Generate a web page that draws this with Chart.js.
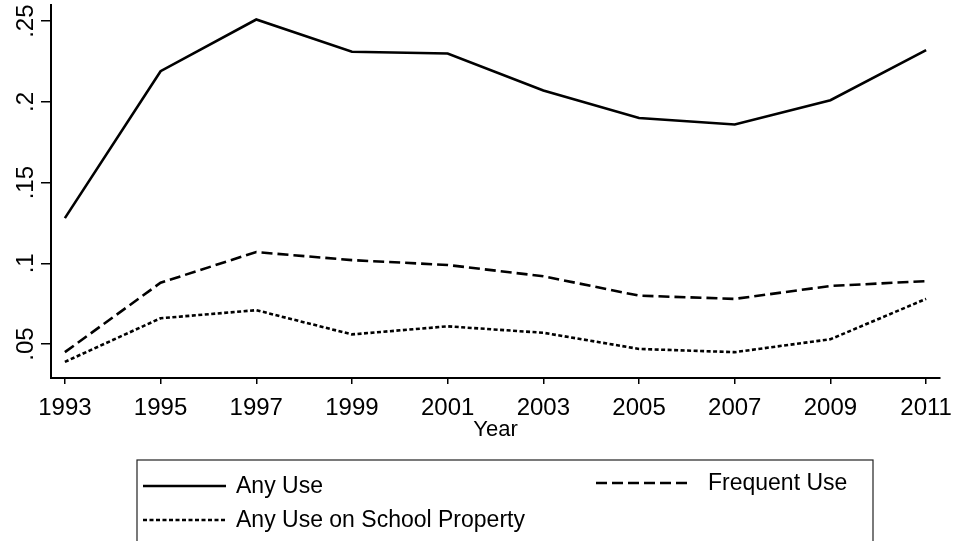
<!DOCTYPE html>
<html>
<head>
<meta charset="utf-8">
<script src="https://cdn.jsdelivr.net/npm/chart.js@4"></script>
<style>
  html, body { margin: 0; padding: 0; background: #fff; }
  #chart { display: block; }
</style>
</head>
<body>
<canvas id="chart" width="953" height="541"></canvas>
<script>
// Data
const years = [1993, 1995, 1997, 1999, 2001, 2003, 2005, 2007, 2009, 2011];
const anyUse = [0.128, 0.219, 0.251, 0.231, 0.230, 0.207, 0.190, 0.186, 0.201, 0.232];
const frequentUse = [0.045, 0.088, 0.107, 0.102, 0.099, 0.092, 0.080, 0.078, 0.086, 0.089];
const schoolUse = [0.039, 0.066, 0.071, 0.056, 0.061, 0.057, 0.047, 0.045, 0.053, 0.078];

const xTicks = [1993, 1995, 1997, 1999, 2001, 2003, 2005, 2007, 2009, 2011];
const yTicks = [0.05, 0.1, 0.15, 0.2, 0.25];
const yTickLabels = ['.05', '.1', '.15', '.2', '.25'];

const FONT = 'Liberation Sans, Arial, sans-serif';

function toPoints(values) {
    return years.map((yr, i) => ({ x: yr, y: values[i] }));
}

// Stata-style boxed legend below the plot
const boxLegend = {
    id: 'boxLegend',
    afterDraw(chart, args, opts) {
        const ctx = chart.ctx;
        const ds = chart.data.datasets;
        ctx.save();
        ctx.strokeStyle = '#222';
        ctx.lineWidth = 1.2;
        ctx.strokeRect(opts.box.left, opts.box.top, opts.box.right - opts.box.left, 200);

        ctx.font = '23px ' + FONT;
        ctx.fillStyle = '#000';
        ctx.textBaseline = 'middle';
        opts.items.forEach((item, i) => {
            const d = ds[i];
            ctx.strokeStyle = '#000';
            ctx.lineWidth = d.borderWidth;
            ctx.setLineDash(d.borderDash || []);
            ctx.beginPath();
            ctx.moveTo(item.x1, item.y);
            ctx.lineTo(item.x2, item.y);
            ctx.stroke();
            ctx.setLineDash([]);
            ctx.fillText(d.label, item.tx, item.y + 1);
        });
        ctx.restore();
    }
};

new Chart(document.getElementById('chart'), {
    type: 'line',
    data: {
        datasets: [
            {
                label: 'Any Use',
                data: toPoints(anyUse),
                borderColor: '#000',
                borderWidth: 2.6,
                pointRadius: 0,
                tension: 0
            },
            {
                label: 'Frequent Use',
                data: toPoints(frequentUse),
                borderColor: '#000',
                borderWidth: 2.6,
                borderDash: [11, 5],
                pointRadius: 0,
                tension: 0
            },
            {
                label: 'Any Use on School Property',
                data: toPoints(schoolUse),
                borderColor: '#000',
                borderWidth: 2.6,
                borderDash: [4, 2.5],
                pointRadius: 0,
                tension: 0
            }
        ]
    },
    options: {
        responsive: false,
        animation: false,
        devicePixelRatio: 1,
        layout: { padding: { top: 5, right: 13, left: 0, bottom: 98 } },
        plugins: {
            legend: { display: false },
            tooltip: { enabled: false },
            boxLegend: {
                box: { left: 137, top: 460, right: 873 },
                items: [
                    { x1: 143, x2: 226, y: 486, tx: 236 },
                    { x1: 596, x2: 690, y: 483, tx: 708 },
                    { x1: 143, x2: 226, y: 520, tx: 236 }
                ]
            }
        },
        scales: {
            x: {
                type: 'linear',
                min: 1992.71,
                max: 2011.29,
                afterBuildTicks: scale => { scale.ticks = xTicks.map(v => ({ value: v })); },
                afterFit: scale => {
                    scale.height = 65;
                    scale.paddingLeft = 0;
                    scale.paddingRight = 0;
                },
                grid: { drawOnChartArea: false, tickLength: 6, color: '#000', lineWidth: 1.5 },
                border: { display: true, color: '#000', width: 2 },
                ticks: {
                    autoSkip: false,
                    maxRotation: 0,
                    padding: 10,
                    color: '#000',
                    font: { family: FONT, size: 24 },
                    callback: v => String(v)
                },
                title: {
                    display: true,
                    text: 'Year',
                    color: '#000',
                    padding: 0,
                    font: { family: FONT, size: 22 }
                }
            },
            y: {
                type: 'linear',
                min: 0.029,
                max: 0.26,
                afterBuildTicks: scale => { scale.ticks = yTicks.map(v => ({ value: v })); },
                afterFit: scale => {
                    scale.width = 51;
                    scale.paddingTop = 0;
                    scale.paddingBottom = 0;
                },
                grid: { drawOnChartArea: false, tickLength: 10, color: '#000', lineWidth: 1.5 },
                border: { display: true, color: '#000', width: 2 },
                ticks: {
                    autoSkip: false,
                    minRotation: 90,
                    maxRotation: 90,
                    crossAlign: 'center',
                    padding: -2,
                    color: '#000',
                    font: { family: FONT, size: 24 },
                    callback: v => yTickLabels[yTicks.indexOf(v)]
                }
            }
        }
    },
    plugins: [boxLegend]
});
</script>
</body>
</html>
